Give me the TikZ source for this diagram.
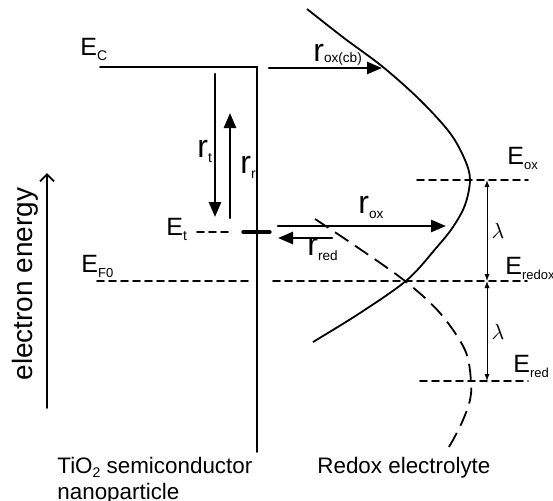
\documentclass[tikz,border=0pt]{standalone}
\usepackage{fontspec}
\setmainfont{Liberation Sans}
\usepackage{tkz-euclide}
\usetikzlibrary{arrows.meta,calc}

\tikzset{
  level/.style={line width=0.9pt,line join=miter},
  dashlevel/.style={line width=0.9pt,dash pattern=on 3.5pt off 2.5pt},
  rate/.style={line width=1.3pt,-{Triangle[length=7.5pt,width=6pt]}},
  gap/.style={line width=0.5pt,{Latex[length=3.5pt,width=2.6pt]}-{Latex[length=3.5pt,width=2.6pt]}},
  band/.style={line width=0.9pt},
  elab/.style={anchor=base west,inner sep=0pt,font=\fontsize{12.5}{15}\selectfont},
  rlab/.style={anchor=base west,inner sep=0pt,font=\fontsize{16}{19}\selectfont},
  txt/.style={anchor=base west,inner sep=0pt,font=\fontsize{11.2}{13.5}\selectfont}
}
\newcommand{\lsub}[2][6.5]{\raisebox{-2.5pt}{\fontsize{#1}{#1}\selectfont #2}}

\begin{document}
\begin{tikzpicture}[x=0.5pt,y=-0.5pt]
\useasboundingbox (0,0) rectangle (553,500);

% semiconductor side
\tkzDefPoints{100/67/EcL,257/67/EcR,257/452/Wall}
\tkzDefPoints{215/74/Tt,215/217/Tb,230/218/Rb,230/113/Rt}
\tkzDefPoints{197/232/EtL,230/232/EtR,243/232/BarL,270/232/BarR}
\tkzDefPoints{97/281/FL,249/281/FR,273/281/RdL,527/281/RdR}
\tkzDefPoints{47/408/AxB,47/173/AxT}

% electrolyte side
\tkzDefPoints{269/68/CbL,382/68/CbR,278/226/OxL,446/226/OxR,332/238/RedR,278/238/RedL}
\tkzDefPoints{417/180/EoxL,528/180/EoxR,420/381/EredL,528/381/EredR}
\tkzDefPoints{487/180/Lt,487/281/Lm,487/381/Lb}

\tkzDrawPolySeg[level](EcL,EcR,Wall)
\tkzDrawSegments[dashlevel](EtL,EtR FL,FR RdL,RdR EoxL,EoxR EredL,EredR)
\tkzDrawSegments[line width=1.6pt](BarL,BarR)
\tkzDrawSegments[rate](Tt,Tb Rb,Rt CbL,CbR OxL,OxR RedR,RedL)
\tkzDrawSegments[gap](Lt,Lm Lm,Lb)
\tkzDrawSegments[line width=0.9pt,-{Straight Barb[length=3.5pt,width=7pt]}](AxB,AxT)

% oxidised and reduced distributions
\draw[band] plot[smooth,tension=0.55] coordinates {(307,9) (344,38) (383,67) (420,100)
  (450,133) (465,160) (470,180) (465,205) (453,227) (437,247) (407,280) (360,313) (313,342)};
\draw[band,dash pattern=on 8pt off 4pt] plot[smooth,tension=0.55] coordinates {(315,219)
  (357,247) (405,281) (440,313) (465,350) (471,381) (470,400) (463,420) (453,440) (445,453)};

% labels
\node[elab] (EClab) at (80,55) {E\lsub[7]{C}};
\node[elab] (Etlab) at (166,235) {E\lsub[7]{t}};
\node[elab] (EFlab) at (81,272) {E\lsub{F0}};
\node[elab] (Eoxlab) at (507,164) {E\lsub{ox}};
\node[elab] (Erdxlab) at (505,274) {E\lsub{redox}};
\node[elab] (Eredlab) at (513,372) {E\lsub{red}};
\node[rlab] (rcblab) at (313,61) {r\raisebox{-0.8pt}{\fontsize{6.8}{6.8}\selectfont ox(cb)}};
\node[rlab] (rtlab) at (197,157) {r\lsub[7]{t}};
\node[rlab] (rrlab) at (240,173) {r\lsub[7]{r}};
\node[rlab] (roxlab) at (358,213) {r\lsub[6.8]{ox}};
\node[rlab] (rredlab) at (307,255) {r\lsub[6.8]{red}};
\node[font=\fontsize{11}{13}\selectfont] (lamup) at (498,231) {$\lambda$};
\node[font=\fontsize{11}{13}\selectfont] (lamlo) at (498,332) {$\lambda$};
\node[rotate=90,font=\fontsize{14}{17}\selectfont] (axlab) at (25,284) {electron energy};
\node[txt] (semilab) at (57,473) {TiO\raisebox{-2pt}{\fontsize{7}{7}\selectfont 2} semiconductor};
\node[txt] (nanolab) at (57,499) {nanoparticle};
\node[txt] (redoxlab) at (317,473) {Redox electrolyte};

\end{tikzpicture}
\end{document}
